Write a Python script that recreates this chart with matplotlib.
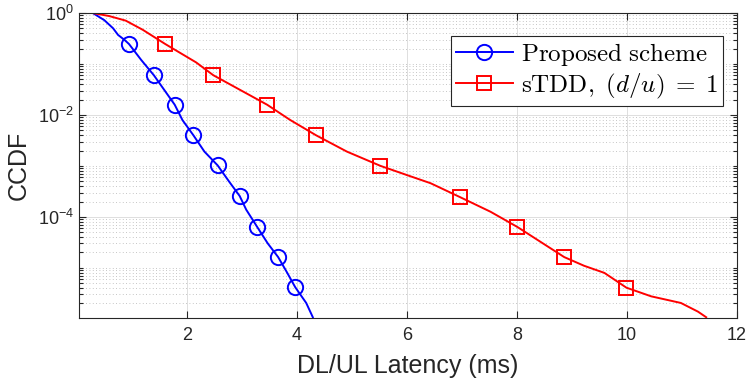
import numpy as np
import matplotlib
matplotlib.use("Agg")
import matplotlib.pyplot as plt
from matplotlib.ticker import LogLocator, NullFormatter, FixedLocator

plt.rcParams['font.family'] = ['Liberation Sans', 'DejaVu Sans']
plt.rcParams['mathtext.fontset'] = 'cm'

# Proposed scheme: curve (latency in ms, CCDF)
prop_x = [0.29, 0.50, 0.66, 0.75, 0.87, 0.95, 1.17, 1.40, 1.59, 1.78, 1.92, 2.12,
          2.32, 2.56, 2.77, 2.96, 3.08, 3.28, 3.47, 3.66, 3.81, 3.97, 4.17, 4.29]
prop_y = [1.0, 10**-0.14, 10**-0.30, 10**-0.43, 10**-0.53, 10**-0.61, 10**-0.92,
          10**-1.22, 10**-1.51, 10**-1.80, 10**-2.10, 10**-2.40, 10**-2.72,
          10**-2.99, 10**-3.31, 10**-3.59, 10**-3.86, 10**-4.20, 10**-4.52,
          10**-4.79, 10**-5.07, 10**-5.38, 10**-5.69, 10**-5.97]
prop_marks = [5, 7, 9, 11, 13, 15, 17, 19, 21]

# sTDD, d/u = 1
stdd_x = [0.29, 0.59, 0.89, 1.20, 1.61, 2.17, 2.48, 3.46, 3.88, 4.35, 4.91, 5.52,
          6.00, 6.43, 6.96, 7.52, 8.01, 8.86, 9.22, 9.59, 9.99, 10.44, 10.98,
          11.29, 11.44]
stdd_y = [1.0, 10**-0.06, 10**-0.15, 10**-0.33, 10**-0.61, 10**-0.97, 10**-1.22,
          10**-1.80, 10**-2.10, 10**-2.40, 10**-2.72, 10**-3.00, 10**-3.18,
          10**-3.34, 10**-3.61, 10**-3.90, 10**-4.20, 10**-4.79, 10**-4.96,
          10**-5.10, 10**-5.39, 10**-5.56, 10**-5.69, 10**-5.86, 10**-5.97]
stdd_marks = [4, 6, 7, 9, 11, 14, 16, 17, 20]

fig = plt.figure(figsize=(7.48, 3.86), dpi=100)
ax = fig.add_axes([0.1056, 0.177, 0.8797, 0.7893])

ax.semilogy(prop_x, prop_y, '-o', color='b', lw=1.4, ms=11, mfc='none', mew=1.4,
            markevery=prop_marks, label=r'$\mathrm{Proposed\ scheme}$')
ax.semilogy(stdd_x, stdd_y, '-s', color='r', lw=1.4, ms=10, mfc='none', mew=1.4,
            markevery=stdd_marks, label=r'$\mathrm{sTDD,}\ (d/u)\;=\;1$')

ax.set_xlim(0.04, 12)
ax.set_ylim(1.05e-6, 1)
ax.set_xticks([2, 4, 6, 8, 10, 12])
ax.yaxis.set_major_locator(FixedLocator([1e-6, 1e-4, 1e-2, 1]))
ax.yaxis.set_minor_locator(LogLocator(base=10, subs=np.arange(1, 10), numticks=20))
ax.yaxis.set_minor_formatter(NullFormatter())

ax.grid(True, which='major', color='0.85', lw=0.6, ls='-')
ax.grid(True, which='minor', axis='y', color='0.7', lw=0.6, ls=(0, (1, 3)))
ax.set_axisbelow(True)

ax.tick_params(which='both', direction='in', top=True, right=True, colors='0.15',
               labelsize=13, width=0.8)
ax.tick_params(which='major', length=5)
ax.tick_params(which='minor', length=3)
ax.tick_params(axis='x', pad=7)
for s in ax.spines.values():
    s.set_color('0.15')
    s.set_linewidth(0.8)

ax.set_xlabel('DL/UL Latency (ms)', fontsize=18, color='0.15', labelpad=7)
ax.set_ylabel('CCDF', fontsize=18, color='0.15', labelpad=5)

leg = ax.legend(loc='upper right', bbox_to_anchor=(0.978, 0.925), fontsize=18,
                fancybox=False, framealpha=1, edgecolor='0.15', borderpad=0.2,
                handlelength=2.3, labelspacing=0.15, handletextpad=0.3,
                borderaxespad=0)
leg.get_frame().set_linewidth(0.8)

fig.savefig('out.png', dpi=100)
